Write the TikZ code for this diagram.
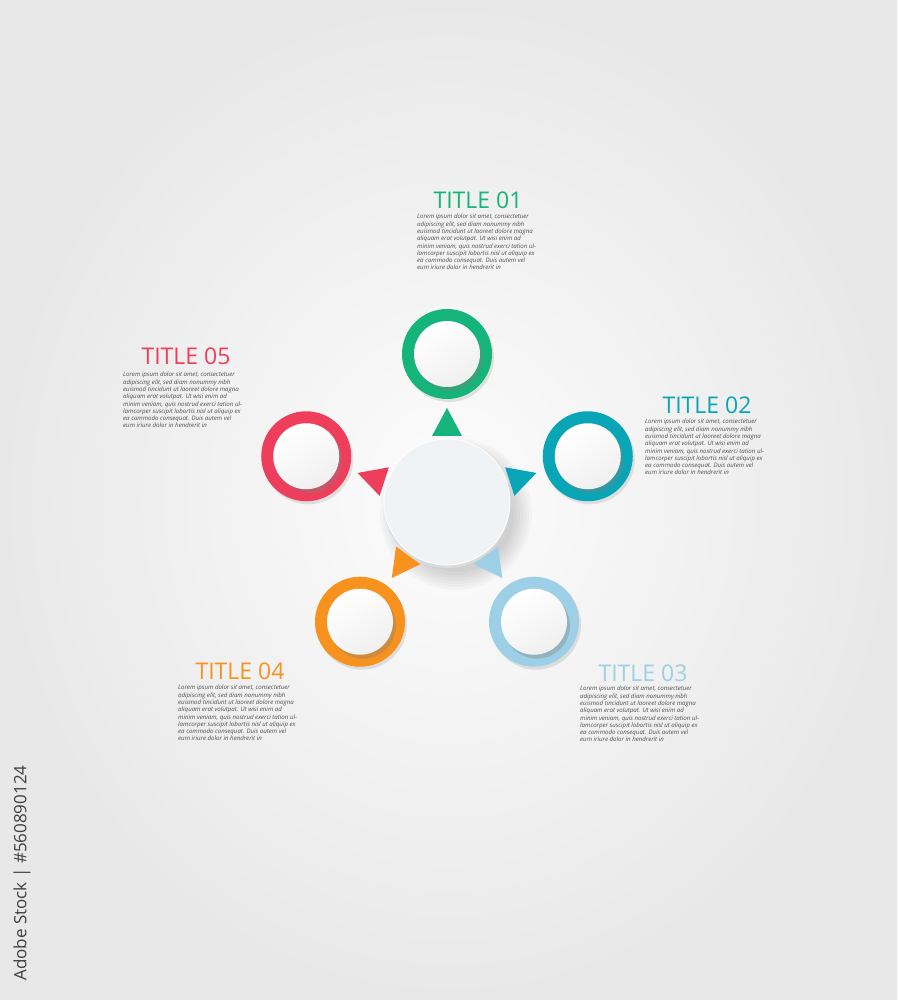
\documentclass[tikz,border=0pt]{standalone}
\usepackage{fontspec}
\setmainfont{Open Sans}
\usetikzlibrary{calc,shadows}

\definecolor{tgreen}{RGB}{20,180,122}
\definecolor{tteal}{RGB}{8,165,182}
\definecolor{tsky}{RGB}{157,208,230}
\definecolor{torange}{RGB}{247,146,30}
\definecolor{tred}{RGB}{238,62,91}
\definecolor{hubfill}{RGB}{240,243,245}

\newcommand{\loremtext}{Lorem ipsum dolor sit amet, consectetuer\\
adipiscing elit, sed diam nonummy nibh\\
euismod tincidunt ut laoreet dolore magna\\
aliquam erat volutpat. Ut wisi enim ad\\
minim veniam, quis nostrud exerci tation ul-\\
lamcorper suscipit lobortis nisl ut aliquip ex\\
ea commodo consequat. Duis autem vel\\
eum iriure dolor in hendrerit in}

\tikzset{
	ring/.style={circle, minimum size=90pt, inner sep=0pt, drop shadow={shadow xshift=2pt, shadow yshift=-3pt, opacity=0.2}},
	disc/.style={circle, minimum size=66pt, inner sep=0pt, top color=white, bottom color=black!6, shading angle=30, drop shadow={shadow xshift=3pt, shadow yshift=-4pt, opacity=0.35}},
	title/.style={font=\fontsize{23}{26}\selectfont, inner sep=0pt},
	body/.style={anchor=north west, align=left, text=black!70, font=\fontsize{6.1}{7.3}\selectfont\itshape, inner sep=0pt}
}

\begin{document}
\begin{tikzpicture}[x=1pt, y=1pt]
\shade[inner color=white!99!black, outer color=white!91!black] (0,0) rectangle (897,1000);
\useasboundingbox (0,0) rectangle (897,1000);

\coordinate (c) at (447,498);

% soft shadow of the hub
\foreach \r in {0,...,6}{
	\fill[black, opacity=0.025] ($(c)+(9,-12)$) circle ({58+\r*3});
}

% rings and arrows
\foreach \ang/\col/\name in {90/tgreen/r1, 18/tteal/r2, -54/tsky/r3, 234/torange/r4, 162/tred/r5}{
	\node[ring, fill=\col] (\name) at ($(c)+(\ang:148)$) {};
	\node[disc] (\name in) at (\name) {};
	\fill[\col] ($(c)+(\ang:94)$) -- ($(c)+(\ang:66)+({\ang+90}:15)$) -- ($(c)+(\ang:66)+({\ang-90}:15)$) -- cycle;
}

% hub
\fill[black!14] ($(c)+(0,-3)$) circle (63);
\node[circle, minimum size=126pt, inner sep=0pt, fill=hubfill, draw=white, line width=0.8pt] (hub) at (c) {};

% titles and texts
\foreach \num/\col/\tx/\ty/\bx/\by in {01/tgreen/478/800/417/786, 02/tteal/707/595/645/581, 03/tsky/643/327/580/314, 04/torange/240/329/178/315, 05/tred/186/644/123/628}{
	\node[title, text=\col] (t\num) at (\tx,\ty) {TITLE \num};
	\node[body] (b\num) at (\bx,\by) {\loremtext};
}

\node[rotate=90, text=black!75, font=\fontsize{17}{19}\selectfont] (stock) at (22,127) {Adobe Stock | \#560890124};

\end{tikzpicture}
\end{document}
